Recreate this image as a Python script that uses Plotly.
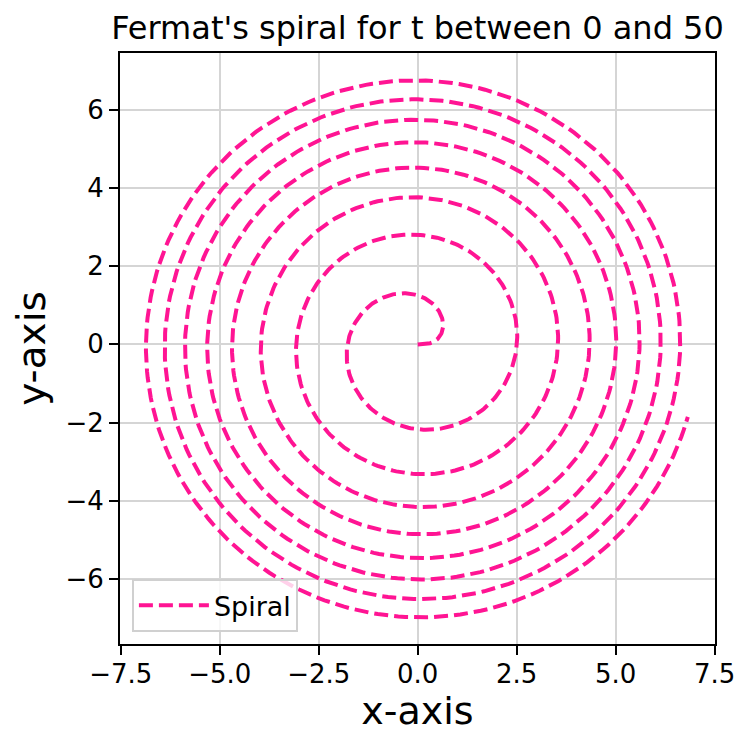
import numpy as np
import plotly.graph_objects as go

# Fermat's spiral parameters (from title): t between 0 and 50
t_start = 0.0
t_end = 50.0
n_points = 2000
series_name = "Spiral"

x_ticks = [-7.5, -5.0, -2.5, 0.0, 2.5, 5.0, 7.5]
y_ticks = [-6, -4, -2, 0, 2, 4, 6]

t = np.linspace(t_start, t_end, n_points)
r = np.sqrt(t)
x = r * np.cos(t)
y = r * np.sin(t)

FONT = "DejaVu Sans"

fig = go.Figure()
fig.add_trace(go.Scatter(
    x=x, y=y, mode="lines", name=series_name,
    line=dict(color="#FF1493", width=4, dash="14px,6px"),
    showlegend=True,
))

axis_common = dict(
    showline=True, linecolor="black", linewidth=2, mirror=True,
    ticks="outside", ticklen=9, tickwidth=2, tickcolor="black",
    showgrid=True, gridcolor="#d5d5d5", gridwidth=2,
    zeroline=False, automargin=False,
    tickfont=dict(family=FONT, size=26, color="black"),
)

fig.update_layout(
    width=736, height=733,
    margin=dict(l=120, r=21, t=53, b=89),
    paper_bgcolor="white", plot_bgcolor="white",
    font=dict(family=FONT, color="black"),
    title=dict(text="Fermat's spiral for t between 0 and 50",
               font=dict(family=FONT, size=32, color="black"),
               x=(120 + 715) / 2 / 736, xanchor="center",
               y=1 - 28 / 733, yanchor="middle"),
    xaxis=dict(range=[-7.52, 7.51], tickvals=x_ticks,
               ticktext=[f"{v:.1f}".replace("-", "\u2212") for v in x_ticks],
               ticklabelstandoff=-3,
               title=dict(text="x-axis", font=dict(family=FONT, size=38), standoff=14),
               **axis_common),
    yaxis=dict(range=[-7.66, 7.45], tickvals=y_ticks,
               ticktext=[str(v).replace("-", "\u2212") for v in y_ticks],
               title=dict(text="y-axis", font=dict(family=FONT, size=39), standoff=8),
               **axis_common),
    legend=dict(x=0.02, y=0.02, xanchor="left", yanchor="bottom",
                bgcolor="rgba(255,255,255,0.8)", bordercolor="#d0d0d0", borderwidth=2,
                itemwidth=70,
                font=dict(family=FONT, size=27, color="black")),
)

fig.write_html("out.html", config={"displayModeBar": False},
               post_script="document.body.style.margin='0';")
